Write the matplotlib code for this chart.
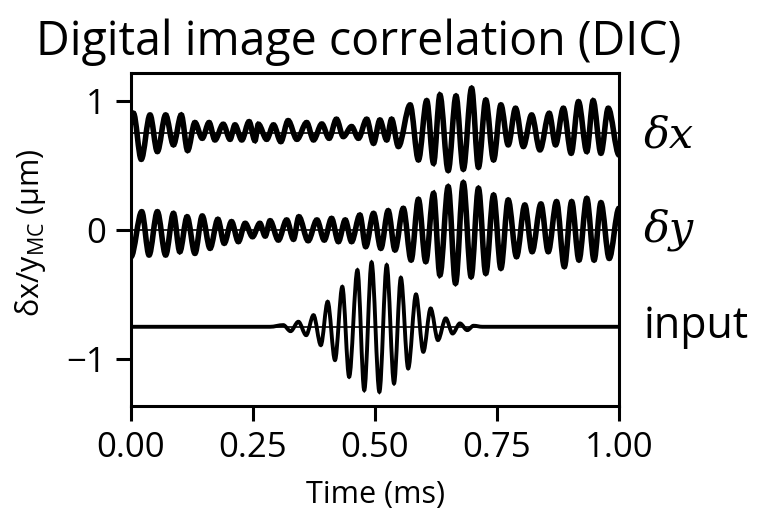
import numpy as np
import matplotlib.pyplot as plt
import matplotlib.transforms as mtransforms
from matplotlib.path import Path
from matplotlib.patches import PathPatch

plt.rcParams['font.family'] = ['Open Sans', 'DejaVu Sans']
plt.rcParams['mathtext.default'] = 'regular'

# extrema: time (ms), displacement about each trace's offset (um)
t_dx = [0.0, 0.005, 0.021, 0.039, 0.054, 0.071, 0.087, 0.103, 0.116, 0.131, 0.146,
        0.160, 0.172, 0.189, 0.203, 0.213, 0.227, 0.242, 0.254, 0.261, 0.278, 0.292,
        0.307, 0.322, 0.340, 0.360, 0.374, 0.391, 0.406, 0.421, 0.435, 0.452, 0.466,
        0.483, 0.497, 0.510, 0.524, 0.534, 0.548, 0.572, 0.589, 0.606, 0.620, 0.633,
        0.650, 0.666, 0.681, 0.698, 0.712, 0.727, 0.743, 0.758, 0.773, 0.788, 0.804,
        0.821, 0.838, 0.857, 0.870, 0.886, 0.902, 0.917, 0.934, 0.947, 0.963, 0.978, 1.0]
dx = [0.078, 0.155, -0.202, 0.142, -0.142, 0.142, -0.090, 0.142, -0.134, 0.083, -0.039,
      0.083, -0.052, 0.070, -0.047, 0.065, -0.052, 0.090, -0.057, 0.070, -0.047, 0.065,
      -0.065, 0.098, -0.047, 0.083, -0.052, 0.072, -0.039, 0.109, -0.026, 0.052, -0.039,
      0.109, -0.078, 0.103, -0.052, 0.109, -0.103, 0.220, -0.207, 0.253, -0.233, 0.297,
      -0.289, 0.289, -0.279, 0.349, -0.264, 0.258, -0.207, 0.220, -0.090, 0.194, -0.103,
      0.142, -0.129, 0.155, -0.090, 0.194, -0.155, 0.245, -0.142, 0.253, -0.155, 0.194, -0.168]

t_dy = [0.0, 0.022, 0.037, 0.054, 0.071, 0.087, 0.100, 0.115, 0.131, 0.146, 0.162,
        0.178, 0.191, 0.206, 0.220, 0.234, 0.249, 0.264, 0.275, 0.285, 0.302, 0.319,
        0.333, 0.344, 0.363, 0.381, 0.396, 0.411, 0.425, 0.439, 0.452, 0.469, 0.481,
        0.497, 0.512, 0.527, 0.541, 0.558, 0.574, 0.589, 0.604, 0.620, 0.633, 0.650,
        0.665, 0.681, 0.697, 0.712, 0.727, 0.743, 0.758, 0.773, 0.790, 0.807, 0.822,
        0.840, 0.855, 0.872, 0.888, 0.903, 0.918, 0.934, 0.949, 0.963, 0.980, 1.0]
dy = [-0.207, 0.142, -0.194, 0.142, -0.194, 0.129, -0.168, 0.103, -0.181, 0.109, -0.142,
      0.083, -0.103, 0.065, -0.090, 0.052, -0.052, 0.052, -0.047, 0.072, -0.078, 0.078,
      -0.072, 0.103, -0.083, 0.078, -0.078, 0.090, -0.090, 0.078, -0.090, 0.116, -0.129,
      0.129, -0.142, 0.150, -0.155, 0.168, -0.233, 0.238, -0.245, 0.284, -0.349, 0.336,
      -0.413, 0.367, -0.362, 0.323, -0.336, 0.271, -0.297, 0.233, -0.207, 0.194, -0.168,
      0.202, -0.168, 0.220, -0.284, 0.220, -0.233, 0.245, -0.233, 0.212, -0.220, 0.168]

t_in = [0.0, 0.285, 0.312, 0.327, 0.343, 0.359, 0.374, 0.389, 0.403, 0.418, 0.433,
        0.447, 0.464, 0.478, 0.493, 0.509, 0.524, 0.539, 0.553, 0.568, 0.584, 0.599,
        0.614, 0.629, 0.645, 0.659, 0.674, 0.689, 0.702, 0.72, 1.0]
inp = [0.0, 0.0, 0.013, -0.034, 0.039, -0.065, 0.090, -0.142, 0.194, -0.258, 0.310,
       -0.388, 0.439, -0.491, 0.499, -0.504, 0.478, -0.439, 0.380, -0.323, 0.251, -0.194,
       0.142, -0.103, 0.065, -0.052, 0.026, -0.026, 0.008, 0.0, 0.0]

offsets = [0.75, 0.0, -0.75]
labels = ['δx', 'δy', 'input']


def wave_path(t, v):
    # cubic segments with flat tangents at each read extremum
    verts = [(t[0], v[0])]
    codes = [Path.MOVETO]
    for i in range(1, len(t)):
        d = (t[i] - t[i - 1]) / 3
        verts += [(t[i - 1] + d, v[i - 1]), (t[i] - d, v[i]), (t[i], v[i])]
        codes += [Path.CURVE4] * 3
    return Path(verts, codes)


fig = plt.figure(figsize=(7.58, 5.14), dpi=100)
ax = fig.add_axes([131/758, 1 - 406/514, 488/758, 333/514])

series = [(t_dx, dx, 4.0), (t_dy, dy, 4.0), (t_in, inp, 2.8)]
for off, (t, v, lw) in zip(offsets, series):
    ax.axhline(off, color='black', lw=1.2)
    ax.add_patch(PathPatch(wave_path(t, np.array(v) + off), fill=False,
                           ec='black', lw=lw))

ax.set_xlim(0, 1)
ax.set_ylim(-1.364, 1.217)
ax.set_xticks([0, 0.25, 0.5, 0.75, 1.0])
ax.set_xticklabels(['0.00', '0.25', '0.50', '0.75', '1.00'])
ax.set_yticks([-1, 0, 1])
ax.set_yticklabels(['\u22121', '0', '1'])
ax.tick_params(labelsize=25, length=11, width=2.2, pad=7)
for s in ax.spines.values():
    s.set_linewidth(2.2)

ax.set_xlabel('Time (ms)', fontsize=22)
ax.xaxis.set_label_coords(0.5, (406 - 495) / 333)
ax.xaxis.label.set_va('center')
ax.set_ylabel(r'δx/y$_{MC}$ (μm)', fontsize=22)
ax.yaxis.set_label_coords((30 - 131) / 488, 0.52)
ax.yaxis.label.set_va('center')

trans = mtransforms.blended_transform_factory(ax.transAxes, ax.transData)
ax.text(1.05, 0.73, labels[0], transform=trans, va='center', ha='left',
        fontsize=31, family='DejaVu Serif', style='italic')
ax.text(1.05, 0.0, labels[1], transform=trans, va='center', ha='left',
        fontsize=31, family='DejaVu Serif', style='italic')
ax.text(1.05, -0.75, labels[2], transform=trans, va='center', ha='left', fontsize=31)

fig.text(359/758, 1 - 42/514, 'Digital image correlation (DIC)', ha='center',
         va='center', fontsize=33.5)

fig.savefig('out.png', dpi=100)
